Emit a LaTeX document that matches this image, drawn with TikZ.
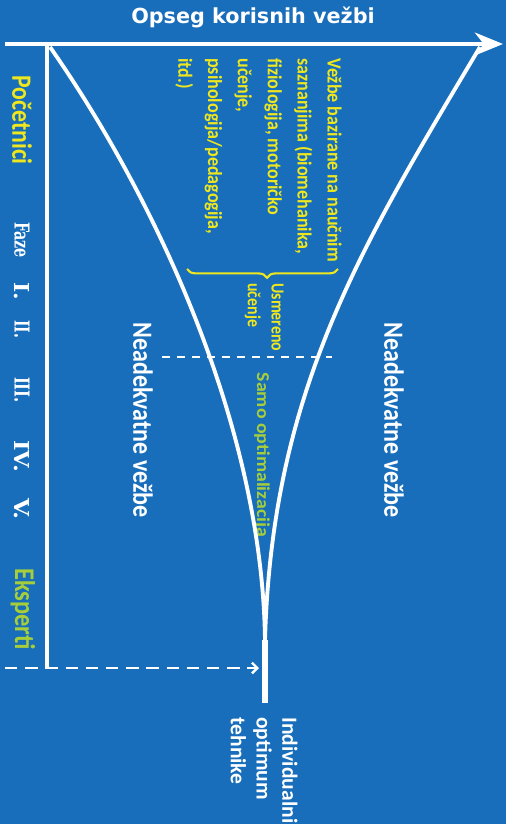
\documentclass[tikz,border=0pt]{standalone}
\usepackage{fontspec}
\usepackage{graphicx}
\setmainfont{Carlito}
\newfontfamily\headfont{DejaVu Sans}
\newfontfamily\phasefont{DejaVu Serif}
\usepackage{tikz}
\usetikzlibrary{positioning, calc, arrows.meta, decorations.pathreplacing}
\definecolor{slideblue}{RGB}{24,110,186}
\definecolor{noteyellow}{RGB}{238,230,30}
\definecolor{notegreen}{RGB}{166,206,58}
\newcommand{\fitlen}[2]{\resizebox{#1}{\height}{#2}}
\newcommand{\sqz}[2][0.9]{\scalebox{#1}[1]{#2}}

\begin{document}
\begin{tikzpicture}[
        x=0.02cm, y=-0.02cm,
        every node/.style={inner sep=0pt, text=white},
        vlabel/.style={rotate=-90, font=\bfseries\fontsize{15.8}{18}\selectfont},
        phase/.style={rotate=-90, font=\phasefont\bfseries\fontsize{11.7}{14}\selectfont},
        note/.style={rotate=-90, align=left, anchor=north west, text=noteyellow},
        axis/.style={line width=2.3pt, white, -{Stealth[length=16pt, width=13pt, inset=5pt]}},
        funnel/.style={line width=2.2pt, white},
        guide/.style={line width=1.4pt, white, dash pattern=on 7pt off 4.5pt}
    ]
        \useasboundingbox (0,0) rectangle (506,824);
        \fill[slideblue] (0,0) rectangle (506,824);

        % Coordinates
        \coordinate (axisL) at (5,44);
        \coordinate (axisR) at (503,44);
        \coordinate (vTop) at (47,44);
        \coordinate (vBot) at (47,668);
        \coordinate (dashL) at (5,668);
        \coordinate (dashR) at (259,668);
        \coordinate (topL) at (50,47);
        \coordinate (topR) at (480,47);
        \coordinate (neck) at (265,640);
        \coordinate (stemEnd) at (265,703);
        \coordinate (midL) at (162,357);
        \coordinate (midR) at (332,357);
        \coordinate (braceR) at (338,269);
        \coordinate (braceL) at (187,269);

        % Nodes
        \node[font=\headfont\bfseries\fontsize{11.8}{14}\selectfont] (title) at (253,17) {Opseg korisnih vežbi};
        \node[rotate=-90, text=noteyellow, font=\bfseries\fontsize{15.9}{18}\selectfont] (novice) at (22,120) {\fitlen{51pt}{Početnici}};
        \node[rotate=-90, text=notegreen, font=\bfseries\fontsize{16.2}{18}\selectfont] (expert) at (23,609) {\fitlen{46.5pt}{Eksperti}};
        \foreach \name/\txt/\y/\w in {faze/Faze/240/20.4pt, p1/I./291/10.2pt, p2/II./329/10.2pt, p3/III./390/14.7pt, p4/IV./456/18.1pt, p5/V./509/12.5pt}
            \node[phase] (\name) at (22,\y) {\fitlen{\w}{\txt}};

        \node[note, font=\bfseries\fontsize{11.4}{17}\selectfont] (science) at (342,58)
            {\sqz{Vežbe bazirane na naučnim}\\\sqz{saznanjima (biomehanika,}\\\sqz{fiziologija, motoričko}\\\sqz{učenje,}\\\sqz{psihologija/pedagogija,}\\\sqz{itd.)}};
        \node[note, font=\bfseries\fontsize{10.5}{13.6}\selectfont] (guided) at (284,283) {\sqz[0.86]{Usmereno}\\\sqz[0.86]{učenje}};
        \node[rotate=-90, text=notegreen, font=\bfseries\fontsize{10.3}{13}\selectfont] (optim) at (262,455) {\fitlen{93.6pt}{Samo optimalizacija}};
        \node[vlabel] (badL) at (143,420) {\fitlen{111pt}{Neadekvatne vežbe}};
        \node[vlabel] (badR) at (394,420) {\fitlen{111pt}{Neadekvatne vežbe}};
        \node[note, text=white, font=\bfseries\fontsize{12.3}{14.7}\selectfont] (optimum) at (298,717) {Individualni\\optimum\\tehnike};

        % Connections
        \draw[axis] (axisL) -- (axisR);
        \draw[line width=2pt, white] (vTop) -- (vBot);
        \draw[guide, -{Straight Barb[length=3pt, width=6pt]}] (dashL) -- (dashR);
        \draw[guide, dash pattern=on 4.5pt off 4pt] (midL) -- (midR);
        \draw[funnel] (topL) .. controls (150,190) and (262,420) .. (neck);
        \draw[funnel] (topR) .. controls (362,245) and (272,390) .. (neck);
        \draw[line width=3.4pt, white] (neck) -- (stemEnd);
        \draw[noteyellow, line width=1.2pt, decorate, decoration={brace, amplitude=5pt, aspect=0.47}] (braceR) -- (braceL);

    \end{tikzpicture}
\end{document}
